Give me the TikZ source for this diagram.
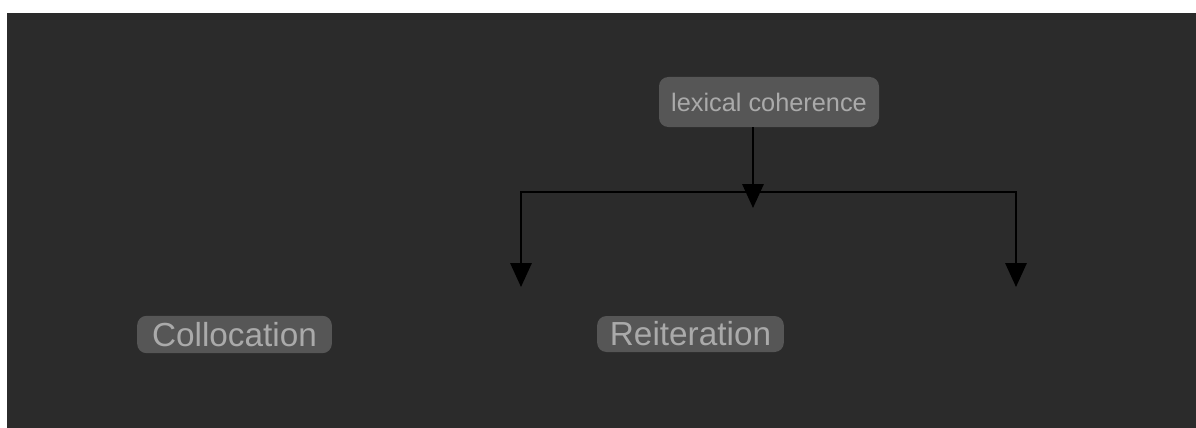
\documentclass[tikz,border=0pt]{standalone}
\usepackage{fontspec}
\setmainfont{Liberation Sans}
\usetikzlibrary{arrows.meta}
\usetikzlibrary{positioning}
\definecolor{bg-dark}{RGB}{43, 43, 43}
\definecolor{box-grey}{RGB}{86, 86, 86}
\definecolor{text-grey}{RGB}{170, 170, 170}

\tikzset{
    termbox/.style={fill=box-grey, text=text-grey, rounded corners=7pt, inner sep=0pt},
    link/.style={draw=black, line width=1.6pt, -{Triangle[width=16pt, length=18pt]}}
}

\begin{document}
\begin{tikzpicture}[x=0.75pt, y=-0.75pt]
                \useasboundingbox (0, 0) rectangle (1196, 428);
                \fill[white] (0, 0) rectangle (1196, 428);
                \fill[bg-dark] (7, 13) rectangle (1196, 428);
                \node[termbox, minimum width=165pt, minimum height=37.5pt, font=\fontsize{19pt}{22pt}\selectfont] (lex) at (769, 102) {lexical coherence};
                \node[termbox, minimum width=146pt, minimum height=28pt, font=\fontsize{25pt}{29pt}\selectfont] (coll) at (234.5, 334.5) {Collocation};
                \node[termbox, minimum width=140pt, minimum height=27pt, font=\fontsize{25pt}{29pt}\selectfont] (reit) at (690.5, 334) {Reiteration};
                \coordinate (mid) at (753, 208);
                \coordinate (split) at (753, 192);
                \coordinate (lft) at (521, 287);
                \coordinate (rgt) at (1016, 287);
                \draw[link] (lex.south -| mid) -- (mid);
                \draw[link] (split) -| (lft);
                \draw[link] (split) -| (rgt);
            \end{tikzpicture}
\end{document}
